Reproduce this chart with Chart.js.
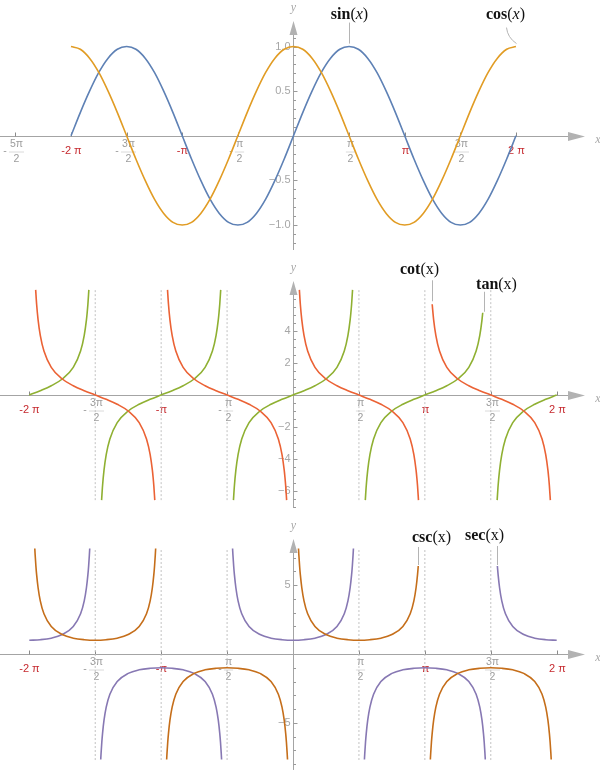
<!DOCTYPE html>
<html>
<head>
<meta charset="utf-8">
<script src="https://cdn.jsdelivr.net/npm/chart.js@4.4.1/dist/chart.umd.min.js"></script>
<style>
  html, body { margin: 0; padding: 0; background: #fff; }
  .panel { position: absolute; left: 0; width: 600px; }
</style>
</head>
<body>
<div class="panel" style="top:0;height:255px"><canvas id="sinCos"></canvas></div>
<div class="panel" style="top:255px;height:255px"><canvas id="tanCot"></canvas></div>
<div class="panel" style="top:510px;height:264px"><canvas id="secCsc"></canvas></div>
<script>
// x is in degrees everywhere (-360 = -2π ... 360 = 2π)
const gridDeg = [-360, -345, -330, -315, -300, -285, -270, -255, -240, -225, -210, -195, -180,
  -165, -150, -135, -120, -105, -90, -75, -60, -45, -30, -15, 0, 15, 30, 45, 60, 75, 90,
  105, 120, 135, 150, 165, 180, 195, 210, 225, 240, 255, 270, 285, 300, 315, 330, 345, 360];
const sinValues = [0, 0.26, 0.5, 0.71, 0.87, 0.97, 1, 0.97, 0.87, 0.71, 0.5, 0.26, 0,
  -0.26, -0.5, -0.71, -0.87, -0.97, -1, -0.97, -0.87, -0.71, -0.5, -0.26, 0, 0.26, 0.5, 0.71, 0.87, 0.97, 1,
  0.97, 0.87, 0.71, 0.5, 0.26, 0, -0.26, -0.5, -0.71, -0.87, -0.97, -1, -0.97, -0.87, -0.71, -0.5, -0.26, 0];
const cosValues = [1, 0.97, 0.87, 0.71, 0.5, 0.26, 0, -0.26, -0.5, -0.71, -0.87, -0.97, -1,
  -0.97, -0.87, -0.71, -0.5, -0.26, 0, 0.26, 0.5, 0.71, 0.87, 0.97, 1, 0.97, 0.87, 0.71, 0.5, 0.26, 0,
  -0.26, -0.5, -0.71, -0.87, -0.97, -1, -0.97, -0.87, -0.71, -0.5, -0.26, 0, 0.26, 0.5, 0.71, 0.87, 0.97, 1];

// one branch of tan / cot, offsets in degrees from the branch centre
const tanShapeDeg = [-81.3, -80, -78, -75, -70, -60, -45, -30, -15, 0, 15, 30, 45, 60, 70, 75, 78, 79, 80, 81.3];
const tanShapeVal = [-6.57, -5.67, -4.70, -3.73, -2.75, -1.73, -1, -0.58, -0.27, 0, 0.27, 0.58, 1, 1.73, 2.75, 3.73, 4.70, 5.14, 5.67, 6.57];
const cotShapeVal = [6.57, 5.67, 4.70, 3.73, 2.75, 1.73, 1, 0.58, 0.27, 0, -0.27, -0.58, -1, -1.73, -2.75, -3.73, -4.70, -5.14, -5.67, -6.57];
const tanBranches = [
  { center: -360, from: 0 }, { center: -180 }, { center: 0 }, { center: 180, to: 79 }, { center: 360, to: 0 }
];
const cotBranches = [{ center: -270 }, { center: -90 }, { center: 90 }, { center: 270, from: -80 }];

// one branch of sec / csc (upper half), offsets from the branch centre
const secShapeDeg = [-82.5, -82, -81, -80, -78, -75, -70, -60, -45, -30, -15, 0, 15, 30, 45, 60, 70, 75, 78, 80, 81, 82, 82.5];
const secShapeVal = [7.66, 7.19, 6.39, 5.76, 4.81, 3.86, 2.92, 2, 1.41, 1.15, 1.04, 1, 1.04, 1.15, 1.41, 2, 2.92, 3.86, 4.81, 5.76, 6.39, 7.19, 7.66];
const secBranches = [
  { center: -360, sign: 1, from: 0 }, { center: -180, sign: -1 }, { center: 0, sign: 1 },
  { center: 180, sign: -1 }, { center: 360, sign: 1, from: -81, to: 0 }
];
const cscBranches = [
  { center: -270, sign: 1 }, { center: -90, sign: -1 }, { center: 90, sign: 1, to: 81 }, { center: 270, sign: -1 }
];

const asymptoteDeg = [-270, -180, -90, 90, 180, 270];

// tick labels
const topTickDeg = [-450, -360, -270, -180, -90, 90, 180, 270, 360];
const topTickLabels = ['-5π/2', '-2 π', '-3π/2', '-π', '-π/2', 'π/2', 'π', '3π/2', '2 π'];
const lowTickDeg = [-360, -270, -180, -90, 90, 180, 270, 360];
const lowTickLabels = ['-2 π', '-3π/2', '-π', '-π/2', 'π/2', 'π', '3π/2', '2 π'];
const sinCosYTicks = [1, 0.5, -0.5, -1];
const sinCosYLabels = ['1.0', '0.5', '−0.5', '−1.0'];
const tanCotYTicks = [4, 2, -2, -4, -6];
const tanCotYLabels = ['4', '2', '−2', '−4', '−6'];
const secCscYTicks = [5, -5];
const secCscYLabels = ['5', '−5'];

const GRAY = '#a4a4a4';
const RED = '#c62a2f';

function branchPoints(shapeDeg, shapeVal, b) {
  const from = b.from ?? shapeDeg[0];
  const to = b.to ?? shapeDeg[shapeDeg.length - 1];
  const sign = b.sign ?? 1;
  const pts = [];
  shapeDeg.forEach((d, i) => {
    if (d >= from && d <= to) pts.push({ x: b.center + d, y: sign * shapeVal[i] });
  });
  return pts;
}

function curve(data, color) {
  return { data, borderColor: color, borderWidth: 1.6, pointRadius: 0, showLine: true,
    fill: false, cubicInterpolationMode: 'monotone', order: 1 };
}

function asymptotes(ext) {
  return asymptoteDeg.map(d => ({
    data: [{ x: d, y: -ext }, { x: d, y: ext }], borderColor: '#c2c2c2', borderWidth: 1,
    borderDash: [2, 2], pointRadius: 0, showLine: true, order: 5
  }));
}

function drawPiLabel(ctx, x, y0, text) {
  ctx.textAlign = 'center';
  ctx.textBaseline = 'middle';
  if (text.includes('/')) {
    let [num, den] = text.split('/');
    let neg = false;
    if (num[0] === '-') { neg = true; num = num.slice(1); }
    ctx.font = '10.5px "Liberation Sans"';
    ctx.fillStyle = '#9c9c9c';
    const w = Math.max(ctx.measureText(num).width, 7) + 2;
    const cx = x + 1;
    ctx.fillText(num, cx, y0 + 8);
    ctx.fillText(den, cx, y0 + 22.5);
    ctx.strokeStyle = '#dadada';
    ctx.beginPath(); ctx.moveTo(cx - w / 2, y0 + 15.5); ctx.lineTo(cx + w / 2, y0 + 15.5); ctx.stroke();
    if (neg) ctx.fillText('-', cx - w / 2 - 4, y0 + 15);
  } else {
    ctx.font = '11px "Liberation Sans"';
    ctx.fillStyle = RED;
    ctx.fillText(text, x, y0 + 14);
  }
}

const trigAxes = {
  id: 'trigAxes',
  beforeDatasetsDraw(chart, args, o) {
    const ctx = chart.ctx, xs = chart.scales.x, ys = chart.scales.y, area = chart.chartArea;
    const x0 = Math.round(xs.getPixelForValue(0)) + 0.5;
    const y0 = Math.round(ys.getPixelForValue(0)) + 0.5;
    ctx.save();
    ctx.lineWidth = 1;
    ctx.strokeStyle = GRAY;
    // x axis with arrow
    const xTip = xs.getPixelForValue(o.xTip), xBase = xTip - 17;
    ctx.beginPath(); ctx.moveTo(area.left, y0); ctx.lineTo(xBase + 2, y0); ctx.stroke();
    ctx.fillStyle = '#b2b2b2';
    ctx.beginPath(); ctx.moveTo(xTip, y0); ctx.lineTo(xBase, y0 - 4.5); ctx.lineTo(xBase, y0 + 4.5); ctx.closePath(); ctx.fill();
    // y axis with arrow
    const yTip = ys.getPixelForValue(o.yTip), yBase = yTip + 14, yEnd = ys.getPixelForValue(o.yEnd);
    ctx.beginPath(); ctx.moveTo(x0, yBase - 2); ctx.lineTo(x0, yEnd); ctx.stroke();
    ctx.beginPath(); ctx.moveTo(x0, yTip); ctx.lineTo(x0 - 4, yBase); ctx.lineTo(x0 + 4, yBase); ctx.closePath(); ctx.fill();
    // axis names
    ctx.font = 'italic 12px "Liberation Serif"';
    ctx.fillStyle = '#a8a8a8';
    ctx.textAlign = 'center'; ctx.textBaseline = 'middle';
    ctx.fillText('y', x0, yTip - 13);
    ctx.fillText('x', xTip + 13, y0 + 3);
    // y ticks, minor and major
    ctx.strokeStyle = '#9a9a9a';
    const n = Math.round((o.minorTo - o.minorFrom) / o.minorStep);
    for (let i = 0; i <= n; i++) {
      const v = +(o.minorFrom + i * o.minorStep).toFixed(3);
      if (v === 0) continue;
      const p = Math.round(ys.getPixelForValue(v)) + 0.5;
      const len = o.yTicks.includes(v) ? 4 : 2.5;
      ctx.beginPath(); ctx.moveTo(x0, p); ctx.lineTo(x0 + len, p); ctx.stroke();
    }
    ctx.font = '11px "Liberation Sans"';
    ctx.fillStyle = '#a6a6a6';
    ctx.textAlign = 'right'; ctx.textBaseline = 'middle';
    o.yTicks.forEach((v, i) => ctx.fillText(o.yLabels[i], x0 - 3, ys.getPixelForValue(v)));
    // x ticks and pi labels
    o.xTicks.forEach((d, i) => {
      const p = Math.round(xs.getPixelForValue(d)) + 0.5;
      ctx.strokeStyle = '#8a8a8a';
      ctx.beginPath(); ctx.moveTo(p, y0); ctx.lineTo(p, y0 - 4); ctx.stroke();
      drawPiLabel(ctx, p, y0, o.xLabels[i]);
    });
    ctx.restore();
  },
  afterDatasetsDraw(chart, args, o) {
    const ctx = chart.ctx, xs = chart.scales.x, ys = chart.scales.y;
    ctx.save();
    (o.callouts || []).forEach(c => {
      const ax = Math.round(xs.getPixelForValue(c.at[0])) + 0.5;
      const ay = ys.getPixelForValue(c.at[1]);
      ctx.strokeStyle = '#b4b4b4';
      ctx.lineWidth = 1;
      ctx.beginPath();
      ctx.moveTo(ax + c.line[0][0], ay + c.line[0][1]);
      if (c.ctrl) ctx.quadraticCurveTo(ax + c.ctrl[0], ay + c.ctrl[1], ax + c.line[1][0], ay + c.line[1][1]);
      else ctx.lineTo(ax + c.line[1][0], ay + c.line[1][1]);
      ctx.stroke();
      const parts = [
        { t: c.name, f: 'bold 16px "Liberation Serif"' },
        { t: '(', f: '16px "Liberation Serif"' },
        { t: 'x', f: (c.italic ? 'italic ' : '') + '16px "Liberation Serif"' },
        { t: ')', f: '16px "Liberation Serif"' }
      ];
      let total = 0;
      parts.forEach(p => { ctx.font = p.f; p.w = ctx.measureText(p.t).width; total += p.w; });
      let tx = ax + c.text[0] - total / 2;
      ctx.fillStyle = '#111';
      ctx.textAlign = 'left'; ctx.textBaseline = 'alphabetic';
      parts.forEach(p => { ctx.font = p.f; ctx.fillText(p.t, tx, ay + c.text[1]); tx += p.w; });
    });
    ctx.restore();
  }
};

function makeChart(id, datasets, xRange, yRange, axes) {
  return new Chart(document.getElementById(id), {
    type: 'scatter',
    data: { datasets },
    options: {
      responsive: true,
      maintainAspectRatio: false,
      animation: false,
      devicePixelRatio: 1,
      events: [],
      layout: { padding: 0 },
      plugins: { legend: { display: false }, tooltip: { enabled: false }, trigAxes: axes },
      scales: {
        x: { type: 'linear', min: xRange[0], max: xRange[1], bounds: 'data', display: false },
        y: { type: 'linear', min: yRange[0], max: yRange[1], bounds: 'data', display: false }
      }
    },
    plugins: [trigAxes]
  });
}

// panel 1: sin and cos
makeChart('sinCos', [
  curve(gridDeg.map((d, i) => ({ x: d, y: cosValues[i] })), '#E19C24'),
  curve(gridDeg.map((d, i) => ({ x: d, y: sinValues[i] })), '#5E81B5')
], [-474.9, 496.0], [-1.336, 1.522], {
  xTip: 471.7, yTip: 1.287, yEnd: -1.28,
  minorFrom: -1.2, minorTo: 1.1, minorStep: 0.1,
  yTicks: sinCosYTicks, yLabels: sinCosYLabels,
  xTicks: topTickDeg, xLabels: topTickLabels,
  callouts: [
    { name: 'sin', italic: true, at: [90, 1], line: [[0, -3], [0, -24]], text: [0, -28] },
    { name: 'cos', italic: true, at: [360, 1], line: [[0, -3], [-10, -19]], ctrl: [-9, -9], text: [-11, -28] }
  ]
});

// panel 2: tan and cot
makeChart('tanCot', [
  ...cotBranches.map(b => curve(branchPoints(tanShapeDeg, cotShapeVal, b), '#EB6235')),
  ...tanBranches.map(b => curve(branchPoints(tanShapeDeg, tanShapeVal, b), '#8FB032')),
  ...asymptotes(6.57)
], [-400.0, 419.1], [-7.1875, 8.75], {
  xTip: 398.6, yTip: 7.125, yEnd: -7.06,
  minorFrom: -7, minorTo: 6, minorStep: 0.5,
  yTicks: tanCotYTicks, yLabels: tanCotYLabels,
  xTicks: lowTickDeg, xLabels: lowTickLabels,
  callouts: [
    { name: 'cot', at: [190, 5.67], line: [[0, -3], [0, -24]], text: [-13, -30] },
    { name: 'tan', at: [259, 5.14], line: [[1, -1], [1, -21]], text: [13, -24] }
  ]
});

// panel 3: sec and csc
makeChart('secCsc', [
  ...cscBranches.map(b => curve(branchPoints(secShapeDeg, secShapeVal, b), '#C56E1A')),
  ...secBranches.map(b => curve(branchPoints(secShapeDeg, secShapeVal, b), '#8778B3')),
  ...asymptotes(7.7)
], [-400.0, 419.1], [-8.715, 10.457], {
  xTip: 398.6, yTip: 8.35, yEnd: -8.42,
  minorFrom: -8, minorTo: 7, minorStep: 1,
  yTicks: secCscYTicks, yLabels: secCscYLabels,
  xTicks: lowTickDeg, xLabels: lowTickLabels,
  callouts: [
    { name: 'csc', at: [171, 6.39], line: [[0, -1], [0, -19]], text: [13, -24] },
    { name: 'sec', at: [279, 6.39], line: [[0, -1], [0, -20]], text: [-13, -26] }
  ]
});
</script>
</body>
</html>
